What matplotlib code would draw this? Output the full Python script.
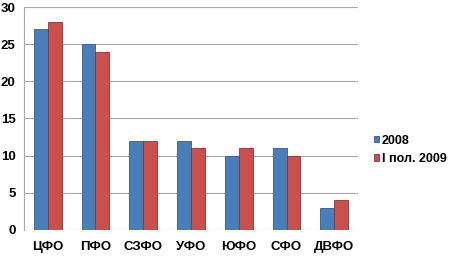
import numpy as np
import matplotlib.pyplot as plt

plt.rcParams['font.family'] = ['Liberation Sans', 'DejaVu Sans']

categories = ['ЦФО', 'ПФО', 'СЗФО', 'УФО', 'ЮФО', 'СФО', 'ДВФО']
values_2008 = [27, 25, 12, 12, 10, 11, 3]
values_2009 = [28, 24, 12, 11, 11, 10, 4]
series_names = ['2008', 'I пол. 2009']
y_ticks = [0, 5, 10, 15, 20, 25, 30]

fig = plt.figure(figsize=(4.5, 2.61), dpi=100)
ax = fig.add_axes([0.053, 0.119, 0.743, 0.854])

x = np.arange(len(categories))
w = 0.29
ax.bar(x - w / 2, values_2008, w, color='#4a7ebb', edgecolor='#2f5d92',
       linewidth=0.6, label=series_names[0], zorder=3)
ax.bar(x + w / 2, values_2009, w, color='#c9504d', edgecolor='#8c3331',
       linewidth=0.6, label=series_names[1], zorder=3)

ax.set_xlim(-0.5, len(categories) - 0.5)
ax.set_ylim(0, 30)
ax.set_yticks(y_ticks)
ax.set_xticks(x)
ax.set_xticklabels(categories, fontweight='bold', fontsize=9.5)
for lab in ax.get_yticklabels():
    lab.set_fontweight('bold')
    lab.set_fontsize(9.5)
ax.yaxis.grid(True, color='#a8a8a8', linewidth=0.8, zorder=0)
ax.tick_params(axis='y', length=0, pad=6)
ax.tick_params(axis='x', length=0, pad=8)
for s in ['top', 'right', 'bottom']:
    ax.spines[s].set_visible(False)
ax.spines['left'].set_color('#a8a8a8')
ax.spines['left'].set_linewidth(0.8)

leg = ax.legend(loc='center left', bbox_to_anchor=(1.02, 0.36), frameon=False,
                prop={'weight': 'bold', 'size': 9}, handlelength=0.45,
                handleheight=0.45, handletextpad=0.2, labelspacing=0.5,
                borderpad=0.2)

fig.savefig('out.png', dpi=100)
